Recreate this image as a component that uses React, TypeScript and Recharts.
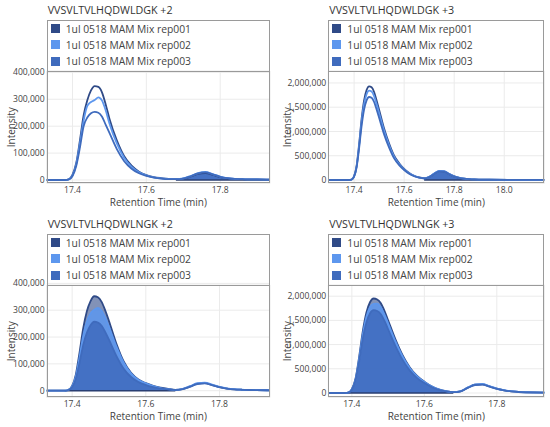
import { ComposedChart, Line, Area, XAxis, YAxis, CartesianGrid } from 'recharts'

// retention time grid (min), shared by all four chromatograms
const TIMES = [
  17.28, 17.30, 17.32, 17.34, 17.36, 17.38,
  17.39, 17.40, 17.41, 17.42, 17.43, 17.44, 17.45, 17.46, 17.47, 17.48, 17.49, 17.50,
  17.52, 17.54, 17.56, 17.58, 17.60, 17.62, 17.64, 17.66,
  17.68, 17.70, 17.72, 17.74, 17.76, 17.78, 17.80, 17.82, 17.84, 17.86, 17.88, 17.90,
  17.94, 18.02, 18.10, 18.20,
]

const SERIES_NAMES = ['1ul 0518 MAM Mix rep001', '1ul 0518 MAM Mix rep002', '1ul 0518 MAM Mix rep003']
const SERIES_COLORS = ['#2f4a87', '#5d97ee', '#3f6bbd']
const FILL_OPACITY = [0.6, 0.85, 0.85]

// VVSVLTVLHQDWLDGK +2
const DGK2_REP001 = [0, 0, 0, 0, 0, 0, 3000, 20000, 63000, 147000, 240000, 296000, 333000, 349000, 346000, 325000, 280000, 228000, 147000, 88000, 53000, 31000, 18000, 11000, 7000, 4000, 3000, 5000, 13000, 23000, 26000, 19000, 11000, 6000, 4000, 3000, 2000, 2000, 1500, 1000, 1000, 1000]
const DGK2_REP002 = [0, 0, 0, 0, 0, 0, 2000, 17000, 58000, 135000, 220000, 275000, 290000, 297000, 307000, 295000, 258000, 210000, 136000, 82000, 49000, 29000, 17000, 10000, 6000, 4000, 3000, 6000, 15000, 26000, 30000, 22000, 13000, 7000, 4500, 3000, 2500, 2000, 1500, 1000, 1000, 1000]
const DGK2_REP003 = [0, 0, 0, 0, 0, 0, 2000, 15000, 52000, 120000, 200000, 232000, 248000, 253000, 250000, 235000, 205000, 175000, 115000, 70000, 42000, 25000, 15000, 9000, 5000, 3000, 3000, 5500, 14000, 25000, 28000, 21000, 12000, 7000, 4000, 3000, 2000, 2000, 1500, 1000, 1000, 1000]

// VVSVLTVLHQDWLDGK +3
const DGK3_REP001 = [0, 0, 0, 0, 0, 0, 10000, 77000, 290000, 733000, 1255000, 1640000, 1853000, 1930000, 1911000, 1814000, 1640000, 1450000, 1060000, 750000, 500000, 345000, 230000, 145000, 88000, 52000, 36000, 62000, 128000, 182000, 178000, 122000, 75000, 45000, 28000, 18000, 12000, 9000, 6000, 4000, 3000, 3000]
const DGK3_REP002 = [0, 0, 0, 0, 0, 0, 9000, 73000, 276000, 699000, 1196000, 1564000, 1766000, 1840000, 1822000, 1730000, 1564000, 1380000, 1012000, 715000, 478000, 330000, 220000, 138000, 84000, 50000, 35000, 65000, 133000, 190000, 185000, 127000, 78000, 47000, 29000, 19000, 12000, 9000, 6000, 4000, 3000, 3000]
const DGK3_REP003 = [0, 0, 0, 0, 0, 0, 8000, 68000, 257000, 650000, 1111000, 1453000, 1642000, 1710000, 1693000, 1607000, 1453000, 1282000, 940000, 665000, 445000, 306000, 205000, 128000, 78000, 47000, 33000, 60000, 123000, 178000, 174000, 120000, 73000, 44000, 27000, 17000, 11000, 8000, 6000, 4000, 3000, 3000]

// VVSVLTVLHQDWLNGK +2
const NGK2_REP001 = [0, 0, 0, 0, 0, 0, 3500, 18000, 60000, 141000, 232000, 296000, 334000, 352000, 348000, 331000, 299000, 260000, 176000, 109000, 67000, 42000, 28000, 18000, 11000, 7000, 3000, 6000, 15000, 26000, 28000, 21000, 13000, 8000, 5000, 3500, 2500, 2000, 1500, 1000, 1000, 1000]
const NGK2_REP002 = [0, 0, 0, 0, 0, 0, 3000, 16000, 53000, 124000, 204000, 258000, 288000, 302000, 309000, 298000, 272000, 238000, 165000, 104000, 64000, 40000, 27000, 17000, 10000, 6000, 3000, 7000, 17000, 28000, 30000, 23000, 14000, 9000, 5500, 3500, 2500, 2000, 1500, 1000, 1000, 1000]
const NGK2_REP003 = [0, 0, 0, 0, 0, 0, 2500, 13000, 44000, 103000, 170000, 216000, 244000, 257000, 254000, 242000, 218000, 190000, 130000, 82000, 51000, 32000, 21000, 13000, 8000, 5000, 2500, 6000, 15000, 25000, 27000, 21000, 13000, 8000, 5000, 3500, 2500, 2000, 1500, 1000, 1000, 1000]

// VVSVLTVLHQDWLNGK +3
const NGK3_REP001 = [0, 0, 0, 0, 0, 0, 10000, 78000, 293000, 742000, 1269000, 1659000, 1874000, 1952000, 1932000, 1854000, 1698000, 1503000, 1113000, 781000, 527000, 351000, 234000, 140000, 75000, 38000, 18000, 35000, 110000, 170000, 178000, 135000, 88000, 55000, 35000, 22000, 15000, 11000, 7000, 5000, 3000, 3000]
const NGK3_REP002 = [0, 0, 0, 0, 0, 0, 9000, 74000, 277000, 702000, 1201000, 1571000, 1774000, 1840000, 1848000, 1770000, 1620000, 1440000, 1070000, 755000, 510000, 342000, 228000, 136000, 73000, 37000, 18000, 37000, 115000, 177000, 186000, 141000, 92000, 58000, 37000, 23000, 15000, 11000, 7000, 5000, 3000, 3000]
const NGK3_REP003 = [0, 0, 0, 0, 0, 0, 8000, 68000, 257000, 650000, 1111000, 1453000, 1642000, 1710000, 1693000, 1625000, 1488000, 1317000, 975000, 684000, 462000, 308000, 205000, 122000, 66000, 33000, 16000, 34000, 106000, 165000, 174000, 132000, 86000, 54000, 34000, 21000, 14000, 10000, 7000, 5000, 3000, 3000]

// integrated peak boundaries (min)
const DGK_PEAK = [17.68, 18.02]
const NGK_PEAK = [17.38, 17.68]

const X_TICKS_SHORT = [17.4, 17.6, 17.8]
const X_TICKS_LONG = [17.4, 17.6, 17.8, 18.0]
const Y_TICKS_SMALL = [0, 100000, 200000, 300000, 400000]
const Y_TICKS_LARGE = [0, 500000, 1000000, 1500000, 2000000]

const W = 275
const H = 214
const PLOT_TOP = 71
const PLOT_BOTTOM = 183.4
const BOX_TOP = 20

const PANELS = [
  { title: 'VVSVLTVLHQDWLDGK +2', left: 0, top: 0, boxLeft: 46.7, boxRight: 270, xDomain: [17.33, 17.935], xTicks: X_TICKS_SHORT, yDomain: [-12600, 405000], yTicks: Y_TICKS_SMALL, series: [DGK2_REP001, DGK2_REP002, DGK2_REP003], peak: DGK_PEAK, labelX: 11.5 },
  { title: 'VVSVLTVLHQDWLDGK +3', left: 275, top: 0, boxLeft: 53.3, boxRight: 269.3, xDomain: [17.297, 18.16], xTicks: X_TICKS_LONG, yDomain: [-70000, 2246000], yTicks: Y_TICKS_LARGE, series: [DGK3_REP001, DGK3_REP002, DGK3_REP003], peak: DGK_PEAK, labelX: 12.5 },
  { title: 'VVSVLTVLHQDWLNGK +2', left: 0, top: 214, boxLeft: 46.7, boxRight: 270, xDomain: [17.331, 17.937], xTicks: X_TICKS_SHORT, yDomain: [-25000, 394000], yTicks: Y_TICKS_SMALL, series: [NGK2_REP001, NGK2_REP002, NGK2_REP003], peak: NGK_PEAK, labelX: 11.5 },
  { title: 'VVSVLTVLHQDWLNGK +3', left: 275, top: 214, boxLeft: 53.3, boxRight: 269.3, xDomain: [17.335, 17.931], xTicks: X_TICKS_SHORT, yDomain: [-91000, 2231000], yTicks: Y_TICKS_LARGE, series: [NGK3_REP001, NGK3_REP002, NGK3_REP003], peak: NGK_PEAK, labelX: 12.5 },
]

const FONT = "'Open Sans', sans-serif"
const TEXT = '#444'
const BORDER = '#9a9a9a'

function Panel(p: any) {
  const data = TIMES.map((t, i) => {
    const inPeak = t >= p.peak[0] - 1e-9 && t <= p.peak[1] + 1e-9
    const row: any = { t, base: inPeak ? 0 : null }
    p.series.forEach((s: number[], k: number) => {
      row['r' + k] = s[i]
      row['f' + k] = inPeak ? s[i] : null
    })
    return row
  })
  const boxW = p.boxRight - p.boxLeft

  return (
    <div style={{ position: 'absolute', left: p.left, top: p.top, width: W, height: H }}>
      <div style={{ position: 'absolute', left: p.boxLeft + 1, top: 3, fontSize: 10.7, lineHeight: '14px', color: '#333', whiteSpace: 'nowrap' }}>
        {p.title}
      </div>
      <ComposedChart width={W} height={H} data={data} margin={{ top: PLOT_TOP, right: W - p.boxRight, bottom: 0, left: 0 }}>
        <CartesianGrid stroke="#ebebeb" />
        <XAxis
          dataKey="t" type="number" domain={p.xDomain} ticks={p.xTicks} allowDataOverflow
          height={H - PLOT_BOTTOM} tickSize={0} tickMargin={3} axisLine={false}
          tickFormatter={(v: number) => v.toFixed(1)}
          tick={{ fontSize: 8.6, fill: TEXT }}
          label={{ value: 'Retention Time (min)', position: 'insideBottom', offset: 8, fontSize: 10, fill: TEXT }}
        />
        <YAxis
          type="number" domain={p.yDomain} ticks={p.yTicks} allowDataOverflow
          width={p.boxLeft} tickSize={0} tickMargin={2} axisLine={false}
          tickFormatter={(v: number) => v.toLocaleString('en-US')}
          tick={{ fontSize: 8.6, fill: TEXT }}
          label={{ value: 'Intensity', angle: -90, position: 'insideLeft', offset: p.labelX, fontSize: 10, fill: TEXT, style: { textAnchor: 'middle' } }}
        />
        {SERIES_COLORS.map((c, k) => (
          <Area key={'f' + k} dataKey={'f' + k} type="monotone" fill={c} fillOpacity={FILL_OPACITY[k]} stroke="none" isAnimationActive={false} />
        ))}
        <Line dataKey="base" stroke="#2a3f73" strokeWidth={1.5} dot={false} isAnimationActive={false} />
        {SERIES_COLORS.map((c, k) => (
          <Line key={'r' + k} dataKey={'r' + k} name={SERIES_NAMES[k]} type="monotone" stroke={c} strokeWidth={1.8} dot={false} isAnimationActive={false} />
        ))}
      </ComposedChart>
      {/* legend box + plot frame */}
      <div style={{ position: 'absolute', left: p.boxLeft, top: BOX_TOP, width: boxW, height: PLOT_BOTTOM - BOX_TOP, border: `1px solid ${BORDER}`, boxSizing: 'border-box', pointerEvents: 'none' }} />
      <div style={{ position: 'absolute', left: p.boxLeft, top: PLOT_TOP, width: boxW, height: 1, background: BORDER }} />
      <div style={{ position: 'absolute', left: p.boxLeft, top: BOX_TOP + 1, width: boxW, height: PLOT_TOP - BOX_TOP - 1 }}>
        {SERIES_NAMES.map((n, k) => (
          <div key={n} style={{ position: 'absolute', left: 4, top: 1 + k * 16.3, height: 13, display: 'flex', alignItems: 'center', whiteSpace: 'nowrap' }}>
            <span style={{ display: 'inline-block', width: 9, height: 9, background: SERIES_COLORS[k], marginRight: 6 }} />
            <span style={{ fontSize: 10.3, color: TEXT }}>{n}</span>
          </div>
        ))}
      </div>
    </div>
  )
}

export default function App() {
  return (
    <div style={{ position: 'relative', width: 550, height: 427, background: '#fff', fontFamily: FONT, overflow: 'hidden' }}>
      <style>{'body{margin:0}'}</style>
      {PANELS.map((p) => <Panel key={p.title} {...p} />)}
    </div>
  )
}
